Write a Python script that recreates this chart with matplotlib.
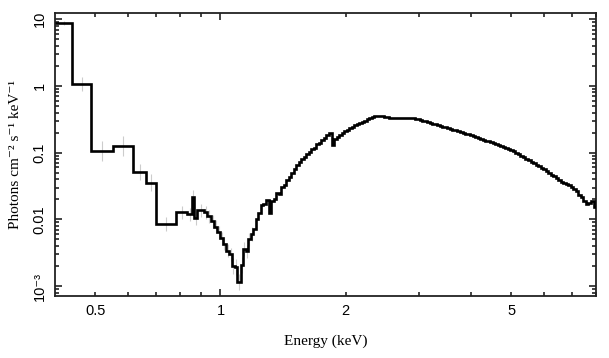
import numpy as np
import matplotlib
matplotlib.use("Agg")
import matplotlib.pyplot as plt
from matplotlib.ticker import FixedLocator, FixedFormatter, NullFormatter

# ---- data (keV, photons cm^-2 s^-1 keV^-1) ----
low_edges = [0.40, 0.44, 0.488, 0.551, 0.616, 0.663, 0.700, 0.783,
             0.832, 0.856, 0.865, 0.880, 0.915, 0.930, 0.950, 0.967, 0.983, 1.000,
             1.015, 1.030, 1.050, 1.065, 1.081, 1.093, 1.118, 1.130, 1.150, 1.165,
             1.182, 1.200]
low_flux = [8.7, 1.07, 0.107, 0.127, 0.052, 0.0357, 0.0085,
            0.0127, 0.0119, 0.022, 0.0105, 0.0136, 0.0127, 0.0111, 0.0093, 0.0078,
            0.0064, 0.0052, 0.0043, 0.0034, 0.0030, 0.0020, 0.0019, 0.00115,
            0.0021, 0.0036, 0.0033, 0.0050, 0.0060]
low_err_dex = [0.03, 0.1, 0.15, 0.15, 0.12, 0.12, 0.1,
               0.1, 0.1, 0.1, 0.1, 0.1, 0.1, 0.1, 0.1, 0.1,
               0.1, 0.1, 0.1, 0.1, 0.1, 0.12, 0.12, 0.12,
               0.12, 0.1, 0.1, 0.1, 0.1]

high_start, high_stop = 1.2, 8.0
high_flux = [
    0.0071, 0.0100, 0.0126, 0.0162, 0.0170, 0.0195, 0.0126, 0.0191, 0.0205, 0.0245,
    0.0240, 0.0310, 0.0322, 0.0390, 0.0425, 0.0500, 0.0560, 0.0660, 0.0730, 0.0805,
    0.0860, 0.0965, 0.1020, 0.1135, 0.1190, 0.1330, 0.1400, 0.1560, 0.1650, 0.1830,
    0.1995, 0.1318, 0.1585, 0.1738, 0.1862, 0.1950, 0.2089, 0.2213, 0.2360, 0.2455,
    0.2570, 0.2661, 0.2786, 0.2904, 0.3020, 0.3162, 0.3296, 0.3428, 0.3491, 0.3532,
    0.3565, 0.3532, 0.3388, 0.3388, 0.3327, 0.3350, 0.3365, 0.3357, 0.3342, 0.3357,
    0.3334, 0.3327, 0.3311, 0.3273, 0.3236, 0.3162, 0.3105, 0.3034, 0.2951, 0.2871,
    0.2799, 0.2729, 0.2661, 0.2594, 0.2529, 0.2466, 0.2404, 0.2344, 0.2280, 0.2223,
    0.2163, 0.2109, 0.2051, 0.1995, 0.1936, 0.1879, 0.1824, 0.1770, 0.1718, 0.1667,
    0.1618, 0.1567, 0.1521, 0.1472, 0.1426, 0.1380, 0.1337, 0.1294, 0.1253, 0.1216,
    0.1178, 0.1140, 0.1102, 0.1047, 0.1000, 0.0944, 0.0897, 0.0851, 0.0813, 0.0767,
    0.0733, 0.0692, 0.0661, 0.0631, 0.0596, 0.0562, 0.0531, 0.0501, 0.0468, 0.0442,
    0.0417, 0.0389, 0.0369, 0.0355, 0.0339, 0.0324, 0.0309, 0.0288, 0.0263, 0.0234,
    0.0214, 0.0191, 0.0170, 0.0174, 0.0186, 0.0151]

xticks_labeled = [0.5, 1, 2, 5]
yticks = [1e-3, 1e-2, 1e-1, 1, 10]
ytick_labels = ["10⁻³", "0.01", "0.1", "1", "10"]

# ---- build arrays ----
high_edges = np.geomspace(high_start, high_stop, len(high_flux) + 1)
edges = np.concatenate([np.array(low_edges), high_edges[1:]])
flux = np.concatenate([np.array(low_flux), np.array(high_flux)])

sans = ["Liberation Sans", "DejaVu Sans"]
serif = ["Liberation Serif", "DejaVu Serif"]

fig = plt.figure(figsize=(6.09, 3.58), dpi=100)
ax = fig.add_axes([0.0903, 0.1732, 0.8884, 0.7891])

# faint error crosses for low-energy bins
le = np.array(low_edges)
lf = np.array(low_flux)
ctr = np.sqrt(le[:-1] * le[1:])
ed = np.array(low_err_dex)
ax.errorbar(ctr, lf, xerr=[ctr - le[:-1], le[1:] - ctr],
            yerr=[lf - lf * 10**(-ed), lf * 10**ed - lf],
            fmt="none", ecolor="#cccccc", elinewidth=0.8, zorder=1)

ax.stairs(flux, edges, color="black", linewidth=1.9, baseline=None, zorder=3)

ax.set_xscale("log")
ax.set_yscale("log")
ax.set_xlim(0.4, 8.0)
ax.set_ylim(7.1e-4, 12.2)

# x ticks
ax.xaxis.set_major_locator(FixedLocator([1]))
ax.xaxis.set_minor_locator(FixedLocator([0.5, 0.6, 0.7, 0.8, 0.9, 2, 3, 4, 5, 6, 7, 8]))
ax.xaxis.set_major_formatter(FixedFormatter(["1"]))
ax.xaxis.set_minor_formatter(NullFormatter())
for xv in xticks_labeled:
    if xv != 1:
        ax.text(xv, -0.03, f"{xv:g}", transform=ax.get_xaxis_transform(),
                ha="center", va="top", fontsize=10.5, family=sans)

# y ticks
ax.yaxis.set_major_locator(FixedLocator(yticks))
ax.yaxis.set_major_formatter(FixedFormatter(ytick_labels))
ax.yaxis.set_minor_locator(FixedLocator(
    [m * 10.0**e for e in range(-4, 2) for m in range(2, 10)]))
ax.yaxis.set_minor_formatter(NullFormatter())

ax.tick_params(which="both", direction="in", top=True, right=True, width=1.2,
               color="#222222")
ax.tick_params(which="major", length=5)
ax.tick_params(which="minor", length=2.6)
ax.tick_params(axis="x", pad=6, labelsize=10.5)
ax.tick_params(axis="y", pad=6, labelsize=10.5, labelrotation=90)
for lab in ax.get_xticklabels() + ax.get_yticklabels():
    lab.set_family(sans)
for lab in ax.get_yticklabels():
    lab.set_va("center")

for sp in ax.spines.values():
    sp.set_linewidth(1.3)
    sp.set_color("#222222")

ax.set_xlabel("Energy (keV)", family=serif, fontsize=11, labelpad=12)
ax.set_ylabel("Photons cm⁻² s⁻¹ keV⁻¹", family=serif, fontsize=11, labelpad=8)

fig.savefig("out.png", dpi=100)
